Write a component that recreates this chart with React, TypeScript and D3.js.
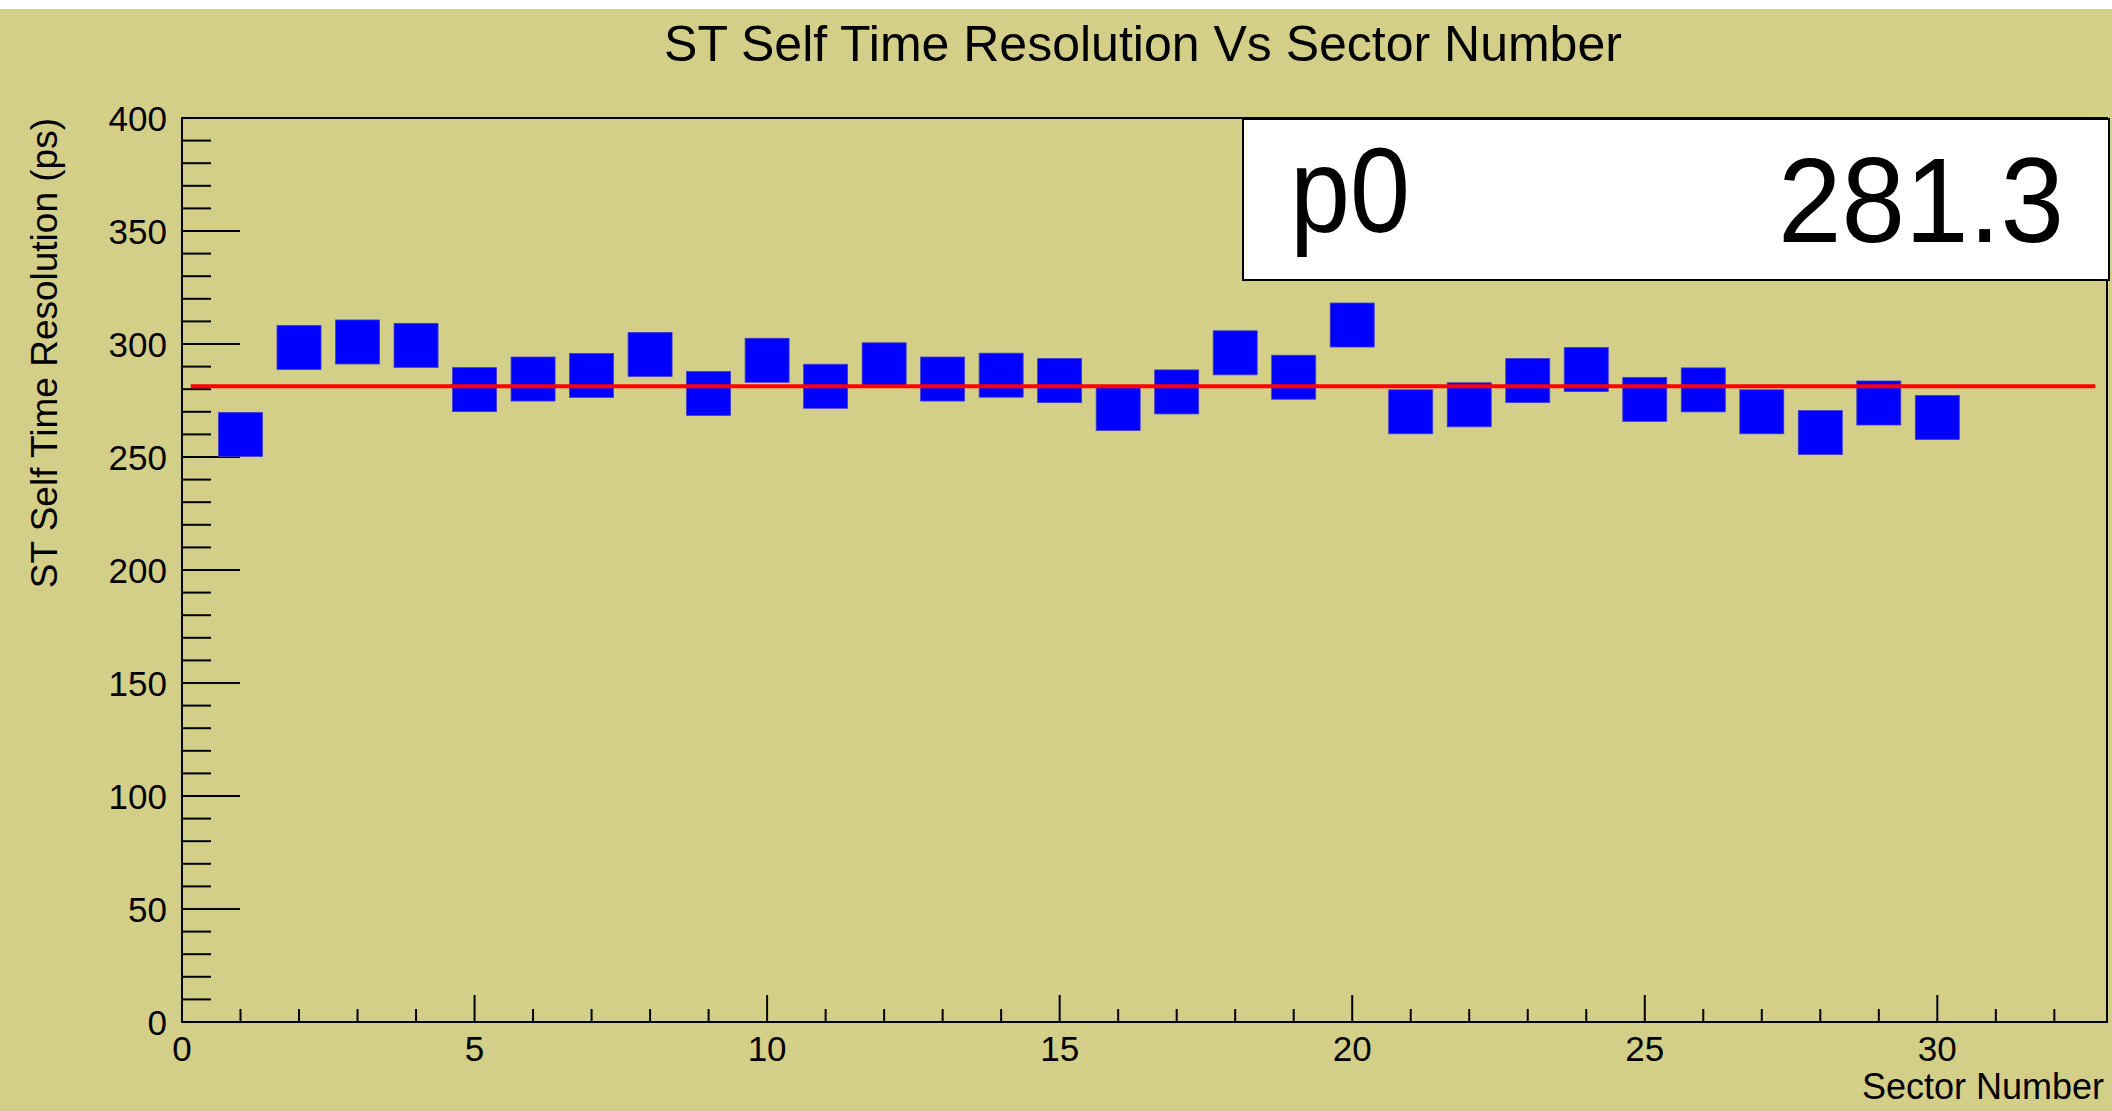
import React from "react";
import * as d3 from "d3";

// sector number vs self time resolution (ps)
const sectors = [
  1, 2, 3, 4, 5, 6, 7, 8, 9, 10, 11, 12, 13, 14, 15, 16, 17, 18, 19, 20, 21,
  22, 23, 24, 25, 26, 27, 28, 29, 30,
];
const resolution = [
  260.0, 298.5, 300.9, 299.4, 279.8, 284.5, 286.1, 295.4, 278.1, 292.8, 281.3,
  290.8, 284.5, 286.2, 283.8, 271.5, 278.8, 296.1, 285.3, 308.4, 270.0, 273.1,
  283.8, 288.7, 275.5, 279.7, 270.0, 260.8, 273.9, 267.5,
];

// pol0 fit
const fitP0 = 281.3;
const fitRange = [0.15, 32.7];

const xDomain = [0, 32.9];
const yDomain = [0, 400];
const xMajorTicks = [0, 5, 10, 15, 20, 25, 30];
const yMajorTicks = [0, 50, 100, 150, 200, 250, 300, 350, 400];

const title = "ST Self Time Resolution Vs Sector Number";
const xTitle = "Sector Number";
const yTitle = "ST Self Time Resolution (ps)";

const width = 2112;
const height = 1111;
const frame = { left: 182, right: 2107, top: 118, bottom: 1022 };
const font = "'Liberation Sans', Arial, Helvetica, sans-serif";
const bg = "#d3cf89";

export default function App() {
  const x = d3.scaleLinear().domain(xDomain).range([frame.left, frame.right]);
  const y = d3.scaleLinear().domain(yDomain).range([frame.bottom, frame.top]);

  const xMinor = d3.range(0, 33, 1).filter((v) => v % 5 !== 0);
  const yMinor = d3.range(0, 401, 10).filter((v) => v % 50 !== 0);

  const fitPath = d3
    .line<number>()
    .x((d) => x(d))
    .y(() => y(fitP0))(fitRange);

  const marker = 44;

  return (
    <svg
      width={width}
      height={height}
      style={{ position: "absolute", left: 0, top: 0, display: "block" }}
      fontFamily={font}
    >
      <rect x={0} y={0} width={width} height={height} fill="#ffffff" />
      <rect x={0} y={9} width={width} height={height - 9} fill={bg} />

      {/* title */}
      <text x={1143} y={61} fontSize={50} textAnchor="middle" fill="#000">
        {title}
      </text>

      {/* ticks */}
      <g stroke="#000" strokeWidth={2}>
        {yMajorTicks.map((v) => (
          <line key={"ym" + v} x1={frame.left} x2={frame.left + 58} y1={y(v)} y2={y(v)} />
        ))}
        {yMinor.map((v) => (
          <line key={"yn" + v} x1={frame.left} x2={frame.left + 29} y1={y(v)} y2={y(v)} />
        ))}
        {xMajorTicks.map((v) => (
          <line key={"xm" + v} x1={x(v)} x2={x(v)} y1={frame.bottom} y2={frame.bottom - 27} />
        ))}
        {xMinor.map((v) => (
          <line key={"xn" + v} x1={x(v)} x2={x(v)} y1={frame.bottom} y2={frame.bottom - 13} />
        ))}
      </g>

      {/* tick labels */}
      {yMajorTicks.map((v) => (
        <text
          key={"yl" + v}
          x={167}
          y={y(v)}
          dy="0.36em"
          fontSize={35}
          textAnchor="end"
        >
          {v}
        </text>
      ))}
      {xMajorTicks.map((v) => (
        <text key={"xl" + v} x={x(v)} y={1061} fontSize={35} textAnchor="middle">
          {v}
        </text>
      ))}

      {/* axis titles */}
      <text x={2104} y={1099} fontSize={36} textAnchor="end">
        {xTitle}
      </text>
      <text
        transform={`translate(57, ${frame.top}) rotate(-90)`}
        fontSize={37}
        textAnchor="end"
      >
        {yTitle}
      </text>

      {/* markers */}
      {sectors.map((s, i) => (
        <rect
          key={"p" + s}
          x={x(s) - marker / 2}
          y={y(resolution[i]) - marker / 2}
          width={marker}
          height={marker}
          fill="#0000ff"
          stroke="#3c3cd0"
          strokeWidth={0.8}
        />
      ))}

      {/* fit */}
      <path d={fitPath ?? ""} stroke="#ff0000" strokeWidth={4} fill="none" />

      {/* frame */}
      <rect
        x={frame.left}
        y={frame.top}
        width={frame.right - frame.left}
        height={frame.bottom - frame.top}
        fill="none"
        stroke="#000"
        strokeWidth={2}
      />

      {/* stats box */}
      <rect x={1243} y={119} width={866} height={161} fill="#ffffff" stroke="#000" strokeWidth={2} />
      <text x={1290} y={232} fontSize={120} textLength={120} lengthAdjust="spacingAndGlyphs">
        p0
      </text>
      <text
        x={2064}
        y={242}
        fontSize={120}
        textAnchor="end"
        textLength={286}
        lengthAdjust="spacingAndGlyphs"
      >
        {fitP0.toFixed(1)}
      </text>
    </svg>
  );
}
